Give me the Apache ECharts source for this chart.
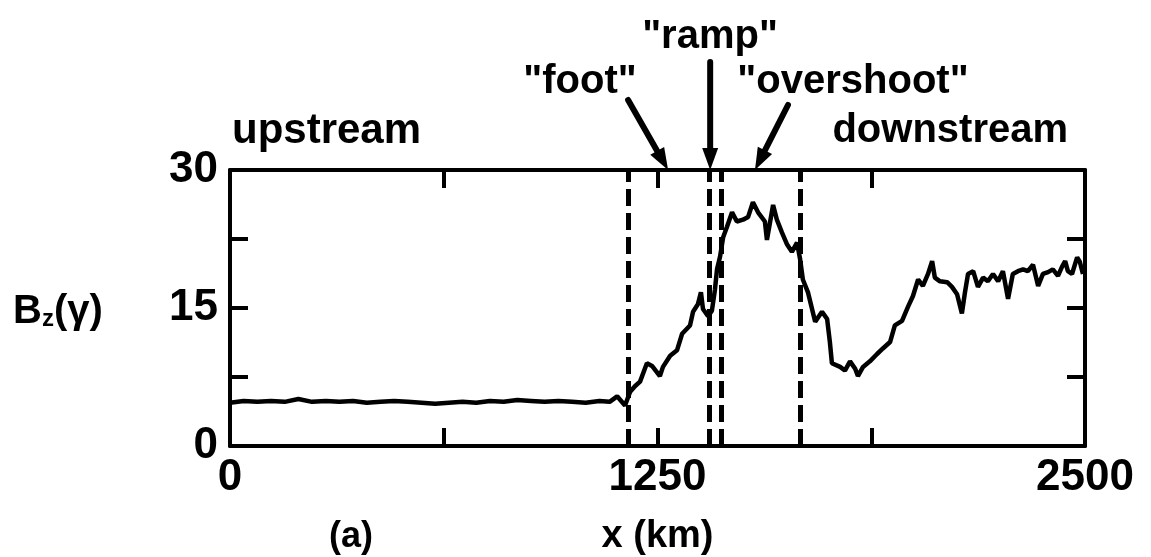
<!DOCTYPE html>
<html>
<head>
<meta charset="utf-8">
<script src="https://cdn.jsdelivr.net/npm/echarts@6/dist/echarts.min.js"></script>
<style>
  html, body { margin: 0; padding: 0; background: #fff; }
  #chart { width: 1151px; height: 557px; }
</style>
</head>
<body>
<div id="chart"></div>
<script>
// x positions along the crossing (km) and Bz (gamma)
const xKm = [
  0, 40, 80, 120, 160, 200, 240, 280, 320, 360, 400, 440, 480, 520, 560,
  600, 640, 680, 720, 760, 800, 840, 880, 920, 960, 1000, 1040, 1080, 1110,
  1132, 1155, 1170, 1184, 1199, 1219, 1234, 1257, 1266, 1287, 1307, 1322,
  1345, 1354, 1368, 1377, 1383, 1398, 1409, 1418, 1424, 1433, 1442, 1453,
  1468, 1482, 1500, 1515, 1529, 1544, 1564, 1570, 1588, 1599, 1614, 1629,
  1643, 1658, 1667, 1675, 1690, 1711, 1731, 1746, 1754, 1760, 1784, 1798,
  1813, 1828, 1836, 1851, 1871, 1892, 1909, 1930, 1944, 1965, 1982, 1997,
  2012, 2026, 2041, 2053, 2061, 2076, 2097, 2111, 2126, 2140, 2149, 2158,
  2173, 2187, 2202, 2216, 2231, 2246, 2260, 2275, 2289, 2304, 2319, 2333,
  2348, 2363, 2377, 2392, 2406, 2421, 2433, 2442, 2450, 2462, 2477, 2485, 2494
];
const bz = [
  4.7, 4.9, 4.8, 4.9, 4.8, 5.1, 4.8, 4.9, 4.8, 4.9, 4.7, 4.8, 4.9, 4.8, 4.7,
  4.6, 4.7, 4.8, 4.7, 4.9, 4.8, 5.0, 4.9, 4.8, 4.9, 4.8, 4.7, 4.9, 4.8,
  5.4, 4.4, 5.9, 6.5, 7.0, 9.0, 8.7, 7.6, 8.6, 9.8, 10.4, 12.2,
  13.1, 14.6, 15.4, 16.7, 14.9, 14.1, 14.7, 17.0, 19.2, 20.6, 22.7, 23.8,
  25.4, 24.4, 24.6, 24.9, 26.5, 25.4, 24.4, 22.4, 26.2, 24.6, 23.2, 21.9,
  21.1, 22.1, 20.3, 18.1, 16.7, 13.5, 14.6, 13.8, 11.3, 9.0, 8.6, 8.2,
  9.2, 8.4, 7.6, 8.6, 9.2, 10.0, 10.6, 11.3, 13.1, 13.6, 15.1, 16.3,
  18.1, 17.4, 18.7, 20.1, 18.3, 17.9, 17.8, 17.3, 16.5, 14.4, 16.7, 18.7,
  19.0, 17.3, 18.3, 17.9, 18.7, 17.9, 19.0, 16.0, 18.7, 19.0, 19.2, 19.0,
  19.7, 17.4, 18.7, 18.9, 19.2, 18.5, 19.5, 20.1, 19.0, 18.7, 20.5, 20.0, 18.7
];
// dashed region boundaries (km)
const boundaries = [1164, 1401, 1436, 1667];
// where the labelled arrows point on the top axis (km)
const footAt = 1281;
const rampAt = 1404;
const overshootAt = 1535;

const xTickLabels = ['0', '1250', '2500'];
const yTickLabels = ['0', '15', '30'];

const FONT = '"Liberation Sans", Arial, sans-serif';

const chart = echarts.init(document.getElementById('chart'));

const axisLine = { onZero: false, lineStyle: { color: '#000', width: 4 } };
const axisTick = { inside: true, length: 18, lineStyle: { color: '#000', width: 4 } };
const tickLabel = {
  color: '#000', fontFamily: FONT, fontWeight: 'bold', fontSize: 44
};

chart.setOption({
  animation: false,
  backgroundColor: '#fff',
  grid: { left: 230, right: 66, top: 170, bottom: 109 },
  xAxis: [
    {
      type: 'value', min: 0, max: 2500, interval: 625,
      axisLine, axisTick, splitLine: { show: false },
      axisLabel: Object.assign({}, tickLabel, {
        margin: 10,
        formatter: v => xTickLabels.includes(String(v)) ? String(v) : ''
      }),
      name: 'x (km)', nameLocation: 'middle', nameGap: 72,
      nameTextStyle: { color: '#000', fontFamily: FONT, fontWeight: 'bold', fontSize: 38 }
    },
    {
      type: 'value', position: 'top', min: 0, max: 2500, interval: 625,
      axisLine, axisTick, splitLine: { show: false }, axisLabel: { show: false }
    }
  ],
  yAxis: [
    {
      type: 'value', min: 0, max: 30, interval: 7.5,
      axisLine, axisTick, splitLine: { show: false },
      axisLabel: Object.assign({}, tickLabel, {
        margin: 12,
        formatter: v => yTickLabels.includes(String(v)) ? String(v) : ''
      })
    },
    {
      type: 'value', position: 'right', min: 0, max: 30, interval: 7.5,
      axisLine, axisTick, splitLine: { show: false }, axisLabel: { show: false }
    }
  ],
  series: [
    {
      type: 'line',
      data: xKm.map((x, i) => [x, bz[i]]),
      showSymbol: false,
      lineStyle: { color: '#000', width: 4.5 },
      markLine: {
        silent: true,
        symbol: 'none',
        label: { show: false },
        lineStyle: { color: '#000', width: 5, type: [17, 7] },
        data: boundaries.map(b => ({ xAxis: b }))
      }
    }
  ]
});

// annotation arrows and labels above the frame
function arrow(tail, tip) {
  const dx = tip[0] - tail[0], dy = tip[1] - tail[1];
  const len = Math.hypot(dx, dy);
  const ux = dx / len, uy = dy / len;
  const headLen = 22, half = 8;
  const bx = tip[0] - ux * headLen, by = tip[1] - uy * headLen;
  return [
    { type: 'line', shape: { x1: tail[0], y1: tail[1], x2: bx, y2: by },
      style: { stroke: '#000', lineWidth: 6, lineCap: 'round' } },
    { type: 'polygon',
      shape: { points: [tip, [bx - uy * half, by + ux * half], [bx + uy * half, by - ux * half]] },
      style: { fill: '#000' } }
  ];
}

const frameTop = chart.convertToPixel({ gridIndex: 0 }, [0, 30])[1];
const px = v => chart.convertToPixel({ xAxisIndex: 0 }, v);

const textStyle = (extra) => Object.assign({
  fill: '#000', fontFamily: FONT, fontWeight: 'bold', fontSize: 40
}, extra);

chart.setOption({
  graphic: [
    ...arrow([px(footAt) - 40, 100], [px(footAt), frameTop]),
    ...arrow([px(rampAt), 62], [px(rampAt), frameTop]),
    ...arrow([px(overshootAt) + 33, 105], [px(overshootAt), frameTop]),
    { type: 'text', x: 232, y: 131, style: textStyle({ text: 'upstream', verticalAlign: 'middle', fontSize: 42 }) },
    { type: 'text', x: 1068, y: 131, style: textStyle({ text: 'downstream', align: 'right', verticalAlign: 'middle' }) },
    { type: 'text', x: 580, y: 82, style: textStyle({ text: '"foot"', align: 'center', verticalAlign: 'middle' }) },
    { type: 'text', x: 710, y: 37, style: textStyle({ text: '"ramp"', align: 'center', verticalAlign: 'middle' }) },
    { type: 'text', x: 853, y: 82, style: textStyle({ text: '"overshoot"', align: 'center', verticalAlign: 'middle' }) },
    { type: 'text', x: 351, y: 537, style: textStyle({ text: '(a)', align: 'center', verticalAlign: 'middle', fontSize: 36 }) },
    {
      type: 'text', x: 13, y: 312,
      style: {
        text: '{b|B}{s|z}{b|(γ)}',
        verticalAlign: 'middle',
        rich: {
          b: { fontFamily: FONT, fontWeight: 'bold', fontSize: 40, fill: '#000' },
          s: { fontFamily: FONT, fontWeight: 'bold', fontSize: 24, fill: '#000', padding: [14, 0, 0, 0] }
        }
      }
    }
  ]
});

window.addEventListener('resize', () => chart.resize());
</script>
</body>
</html>
